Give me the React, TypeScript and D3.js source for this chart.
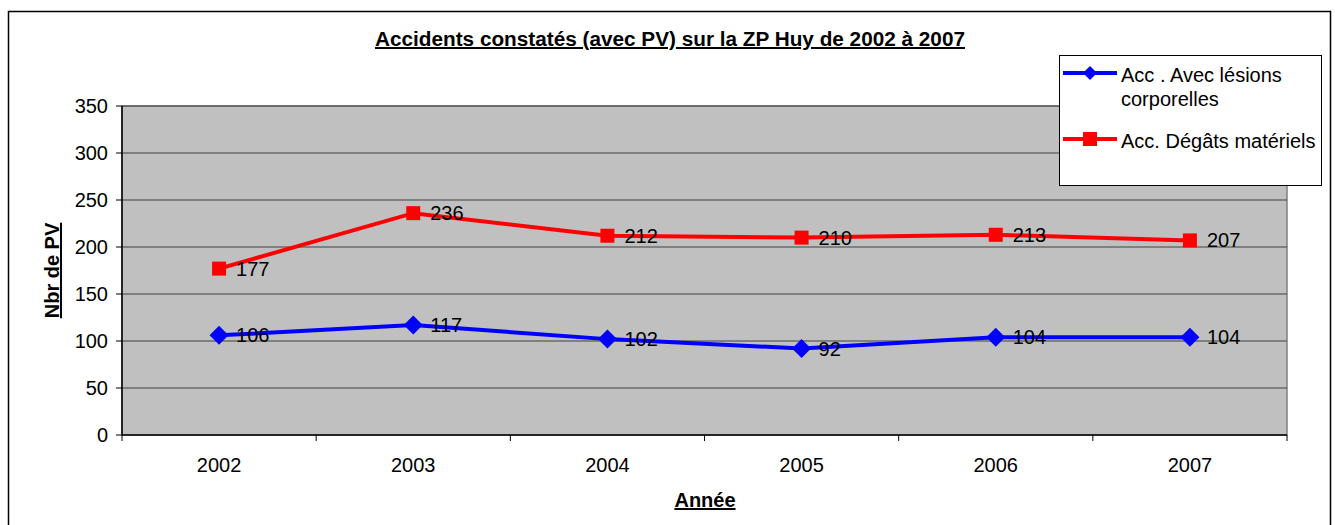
import React from 'react';
import * as d3 from 'd3';

const years = ['2002', '2003', '2004', '2005', '2006', '2007'];
const blessures = [106, 117, 102, 92, 104, 104];
const degats = [177, 236, 212, 210, 213, 207];
const yTicks = [0, 50, 100, 150, 200, 250, 300, 350];

const width = 1335;
const height = 525;
const plot = { left: 122, right: 1287, top: 106, bottom: 435 };
const font = '"Liberation Sans", Arial, sans-serif';
const fs = 20;

const x = d3.scaleBand().domain(years).range([plot.left, plot.right]);
const y = d3.scaleLinear().domain([0, 350]).range([plot.bottom, plot.top]);
const cx = (d: string) => (x(d) as number) + x.bandwidth() / 2;

const line = d3.line<number>()
  .x((_, i) => cx(years[i]))
  .y(d => y(d));

const diamond = (px: number, py: number, r: number) =>
  `M${px},${py - r}L${px + r},${py}L${px},${py + r}L${px - r},${py}Z`;

const series = [
  { name: 'blue', values: blessures, color: '#0000ff', marker: 'diamond' },
  { name: 'red', values: degats, color: '#ff0000', marker: 'square' },
];

const App = () => {
  return (
    <svg width={width} height={height} style={{ position: 'absolute', left: 0, top: 0 }}>
      <rect x={0} y={0} width={width} height={height} fill="#fff" />
      <rect x={8.5} y={11.5} width={1322} height={530} fill="#fff" stroke="#000" strokeWidth={1.5} />

      <text x={670} y={46} textAnchor="middle" fontFamily={font} fontSize={20} fontWeight="bold"
        textDecoration="underline" textLength={590} lengthAdjust="spacingAndGlyphs">
        Accidents constatés (avec PV) sur la ZP Huy de 2002 à 2007
      </text>

      <rect x={plot.left} y={plot.top} width={plot.right - plot.left} height={plot.bottom - plot.top}
        fill="#c0c0c0" stroke="#808080" strokeWidth={1.5} />

      {yTicks.filter(t => t > 0).map(t => (
        <line key={t} x1={plot.left} x2={plot.right} y1={y(t)} y2={y(t)} stroke="#404040" strokeWidth={1} />
      ))}

      {/* axes */}
      <line x1={plot.left} x2={plot.left} y1={plot.top} y2={plot.bottom} stroke="#000" strokeWidth={1.5} />
      <line x1={plot.left} x2={plot.right} y1={plot.bottom} y2={plot.bottom} stroke="#000" strokeWidth={1.5} />
      {yTicks.map(t => (
        <g key={t}>
          <line x1={plot.left - 6} x2={plot.left} y1={y(t)} y2={y(t)} stroke="#000" />
          <text x={108} y={y(t) + 7} textAnchor="end" fontFamily={font} fontSize={fs}>{t}</text>
        </g>
      ))}
      {years.map((yr, i) => (
        <g key={yr}>
          <line x1={x(yr) as number} x2={x(yr) as number} y1={plot.bottom} y2={plot.bottom + 6} stroke="#000" />
          {i === years.length - 1 && (
            <line x1={plot.right} x2={plot.right} y1={plot.bottom} y2={plot.bottom + 6} stroke="#000" />
          )}
          <text x={cx(yr)} y={472} textAnchor="middle" fontFamily={font} fontSize={fs}>{yr}</text>
        </g>
      ))}

      <text x={705} y={507} textAnchor="middle" fontFamily={font} fontSize={20} fontWeight="bold"
        textDecoration="underline">Année</text>
      <text transform={`translate(59,${(plot.top + plot.bottom) / 2}) rotate(-90)`} textAnchor="middle"
        fontFamily={font} fontSize={20} fontWeight="bold" textDecoration="underline">Nbr de PV</text>

      {series.map(s => (
        <g key={s.name}>
          <path d={line(s.values) as string} fill="none" stroke={s.color} strokeWidth={4} />
          {s.values.map((v, i) => {
            const px = cx(years[i]);
            const py = y(v);
            return (
              <g key={i}>
                {s.marker === 'diamond'
                  ? <path d={diamond(px, py, 9.5)} fill={s.color} />
                  : <rect x={px - 7} y={py - 7} width={14} height={14} fill={s.color} />}
                <text x={px + 17} y={py + 7} fontFamily={font} fontSize={fs} fill="#000">{v}</text>
              </g>
            );
          })}
        </g>
      ))}

      {/* legend */}
      <rect x={1059.5} y={55.5} width={262} height={130} fill="#fff" stroke="#000" strokeWidth={1} />
      <line x1={1063} x2={1117} y1={73} y2={73} stroke="#0000ff" strokeWidth={4} />
      <path d={diamond(1090, 73, 7)} fill="#0000ff" />
      <text x={1121} y={82} fontFamily={font} fontSize={fs}>Acc . Avec lésions</text>
      <text x={1121} y={106} fontFamily={font} fontSize={fs}>corporelles</text>
      <line x1={1063} x2={1117} y1={139} y2={139} stroke="#ff0000" strokeWidth={4} />
      <rect x={1083} y={132} width={14} height={14} fill="#ff0000" />
      <text x={1121} y={148} fontFamily={font} fontSize={fs}>Acc. Dégâts matériels</text>
    </svg>
  );
};

export default App;
